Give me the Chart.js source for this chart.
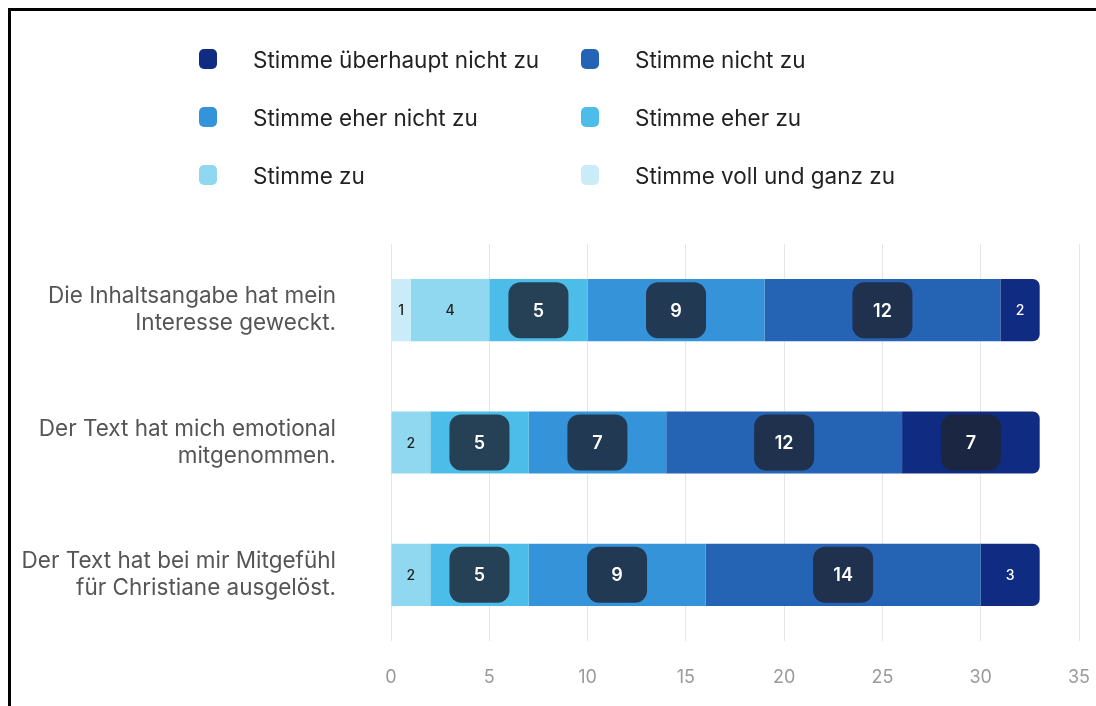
<!DOCTYPE html>
<html>
<head>
<meta charset="utf-8">
<script src="https://cdn.jsdelivr.net/npm/chart.js@4"></script>
<style>
  html, body { margin: 0; width: 1096px; height: 706px; overflow: hidden; background: #fff; font-family: Inter, "Noto Sans", sans-serif; }
  #frame { position: absolute; left: 8px; top: 8px; width: 1200px; height: 800px; border: 3px solid #000; }
  #wrap { position: absolute; left: 0; top: 0; width: 1096px; height: 706px; }
  .leg { position: absolute; display: flex; align-items: center; font-size: 22.5px; color: #222; white-space: nowrap; }
  .leg span.sw { display: inline-block; width: 18px; height: 20px; border-radius: 5px; margin-right: 36px; }
</style>
</head>
<body>
<div id="frame"></div>
<div id="wrap"><canvas id="likert" width="1096" height="706"></canvas></div>
<div id="legend"></div>
<script>
const statements = [
    ['Die Inhaltsangabe hat mein', 'Interesse geweckt.'],
    ['Der Text hat mich emotional', 'mitgenommen.'],
    ['Der Text hat bei mir Mitgefühl', 'für Christiane ausgelöst.']
];

// stack order, left to right
const answers = ['Stimme voll und ganz zu', 'Stimme zu', 'Stimme eher zu', 'Stimme eher nicht zu', 'Stimme nicht zu', 'Stimme überhaupt nicht zu'];
const colors = ['#c9ecf8', '#8fd8f0', '#4bbde8', '#3593d9', '#2563b5', '#102b82'];

const vollUndGanz = [1, 0, 0];
const zu = [4, 2, 2];
const eherZu = [5, 5, 5];
const eherNicht = [9, 7, 9];
const nicht = [12, 12, 14];
const ueberhauptNicht = [2, 7, 3];

const xTicks = [0, 5, 10, 15, 20, 25, 30, 35];

const values = [vollUndGanz, zu, eherZu, eherNicht, nicht, ueberhauptNicht];

const datasets = answers.map((name, i) => ({
    label: name,
    data: values[i],
    backgroundColor: colors[i],
    borderWidth: 0,
    borderSkipped: false,
    borderRadius: i === answers.length - 1 ? { topRight: 7, bottomRight: 7, topLeft: 0, bottomLeft: 0 } : 0,
    barPercentage: 0.47,
    categoryPercentage: 1
}));

function roundRect(ctx, x, y, w, h, r) {
    ctx.beginPath();
    ctx.moveTo(x + r, y);
    ctx.arcTo(x + w, y, x + w, y + h, r);
    ctx.arcTo(x + w, y + h, x, y + h, r);
    ctx.arcTo(x, y + h, x, y, r);
    ctx.arcTo(x, y, x + w, y, r);
    ctx.closePath();
}

const valueLabels = {
    id: 'valueLabels',
    afterDatasetsDraw(chart) {
        const ctx = chart.ctx;
        ctx.save();
        ctx.textAlign = 'center';
        ctx.textBaseline = 'middle';
        chart.data.datasets.forEach((ds, i) => {
            const meta = chart.getDatasetMeta(i);
            meta.data.forEach((bar, j) => {
                const v = ds.data[j];
                if (!v) return;
                const cx = (bar.x + bar.base) / 2;
                const cy = bar.y;
                if (v >= 5) {
                    ctx.fillStyle = 'rgba(30, 38, 54, 0.82)';
                    roundRect(ctx, cx - 30, cy - 28, 60, 56, 12);
                    ctx.fill();
                    ctx.fillStyle = '#fff';
                    ctx.font = '600 18px Inter, sans-serif';
                } else {
                    ctx.fillStyle = i >= 4 ? '#fff' : '#222';
                    ctx.font = '500 14px Inter, sans-serif';
                }
                ctx.fillText(String(v), cx, cy + 1);
            });
        });
        ctx.restore();
    }
};

const chart = new Chart(document.getElementById('likert'), {
    type: 'bar',
    data: { labels: statements, datasets: datasets },
    options: {
        indexAxis: 'y',
        responsive: false,
        animation: false,
        layout: { padding: { top: 244, right: 17, bottom: 18, left: 0 } },
        plugins: { legend: { display: false }, tooltip: { enabled: false } },
        scales: {
            x: {
                stacked: true,
                min: 0,
                max: 35,
                afterBuildTicks: axis => { axis.ticks = xTicks.map(v => ({ value: v })); },
                afterFit: axis => { axis.paddingLeft = 0; axis.paddingRight = 0; axis.height = 47; },
                grid: { color: '#e6e6e6', drawTicks: false },
                border: { display: false },
                ticks: { padding: 26, color: '#9a9a9a', font: { family: 'Inter', size: 18 } }
            },
            y: {
                stacked: true,
                grid: { display: false, drawTicks: false },
                border: { display: false },
                afterFit: axis => { axis.width = 391; axis.paddingTop = 0; axis.paddingBottom = 0; },
                ticks: { padding: 55, color: '#555', font: { family: 'Inter', size: 22.5, lineHeight: 1.2 } }
            }
        }
    },
    plugins: [valueLabels]
});

// two-column legend, darkest first
const legend = document.getElementById('legend');
const legendCols = [199, 581];
const legendRows = [59, 117, 175];
answers.slice().reverse().forEach((name, k) => {
    const idx = answers.length - 1 - k;
    const item = document.createElement('div');
    item.className = 'leg';
    item.style.left = legendCols[k % 2] + 'px';
    item.style.top = (legendRows[Math.floor(k / 2)] - 14) + 'px';
    item.style.height = '28px';
    item.innerHTML = '<span class="sw" style="background:' + colors[idx] + '"></span>' + name;
    legend.appendChild(item);
});
</script>
</body>
</html>
